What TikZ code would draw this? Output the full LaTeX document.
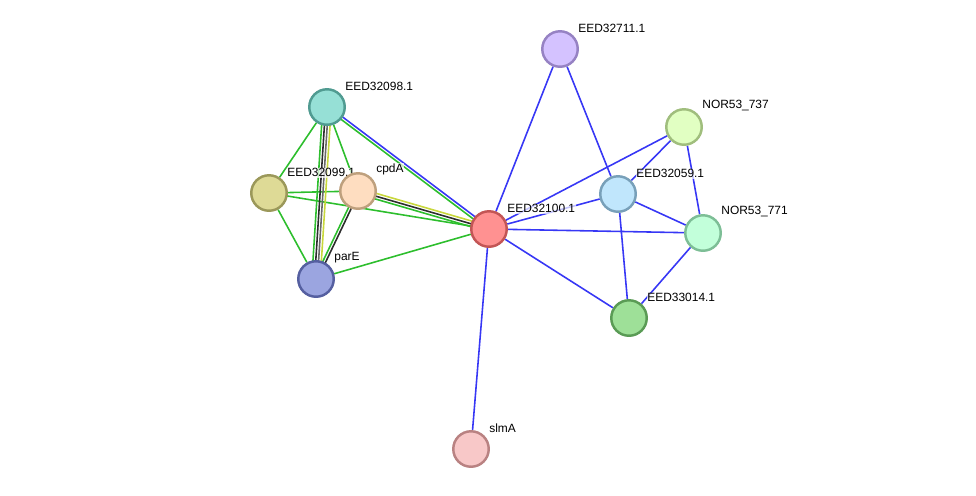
\documentclass[tikz,border=0pt]{standalone}
\usepackage{fontspec}
\setmainfont{Liberation Sans}
\usetikzlibrary{calc,backgrounds}
\usepackage{xcolor}
\definecolor{linkblue}{RGB}{55,55,245}
\definecolor{linkgreen}{RGB}{45,190,45}
\definecolor{linkyellow}{RGB}{200,215,60}
\definecolor{linkblack}{RGB}{45,45,45}
\definecolor{linkgrey}{RGB}{105,105,105}

\tikzset{
  prot/.style={circle, minimum size=0.71cm, inner sep=0pt, line width=1.4pt},
  lbl/.style={anchor=south west, xshift=0.8pt, yshift=-0.5pt, font=\fontsize{6.8}{8}\selectfont,
    fill=white, fill opacity=0.7, text opacity=1, inner sep=0.4pt},
  link/.style={line width=0.9pt}
}

\begin{document}
\begin{tikzpicture}[x=0.02cm, y=-0.02cm, label distance=2pt]
    \useasboundingbox (0,0) rectangle (976,495);

    % proteins
    \node[prot, fill={rgb,255:red,255;green,145;blue,145}, draw={rgb,255:red,195;green,85;blue,85}, label={[lbl]45:EED32100.1}] (eed32100) at (489,229) {};
    \node[prot, fill={rgb,255:red,212;green,194;blue,255}, draw={rgb,255:red,150;green,130;blue,195}, label={[lbl]45:EED32711.1}] (eed32711) at (560,49) {};
    \node[prot, fill={rgb,255:red,225;green,255;blue,194}, draw={rgb,255:red,160;green,190;blue,125}, label={[lbl]45:NOR53\_737}] (nor737) at (684,127) {};
    \node[prot, fill={rgb,255:red,192;green,230;blue,252}, draw={rgb,255:red,120;green,160;blue,185}, label={[lbl]45:EED32059.1}] (eed32059) at (618,194) {};
    \node[prot, fill={rgb,255:red,194;green,255;blue,218}, draw={rgb,255:red,125;green,190;blue,150}, label={[lbl]45:NOR53\_771}] (nor771) at (703,233) {};
    \node[prot, fill={rgb,255:red,158;green,224;blue,152}, draw={rgb,255:red,90;green,155;blue,85}, label={[lbl]45:EED33014.1}] (eed33014) at (629,318) {};
    \node[prot, fill={rgb,255:red,248;green,200;blue,200}, draw={rgb,255:red,185;green,130;blue,130}, label={[lbl]45:slmA}] (slma) at (471,449) {};
    \node[prot, fill={rgb,255:red,150;green,224;blue,214}, draw={rgb,255:red,80;green,155;blue,145}, label={[lbl]45:EED32098.1}] (eed32098) at (327,107) {};
    \node[prot, fill={rgb,255:red,222;green,218;blue,150}, draw={rgb,255:red,155;green,152;blue,90}, label={[lbl]45:EED32099.1}] (eed32099) at (269,193) {};
    \node[prot, fill={rgb,255:red,254;green,221;blue,192}, draw={rgb,255:red,190;green,160;blue,125}, label={[lbl]45:cpdA}] (cpda) at (358,191) {};
    \node[prot, fill={rgb,255:red,155;green,165;blue,224}, draw={rgb,255:red,85;green,95;blue,160}, label={[lbl]45:parE}] (pare) at (316,279) {};

    % associations
    \begin{scope}[on background layer={link}]
        % left cluster
        \draw[linkgreen] (eed32098) -- (eed32099);
        \draw[linkgreen] (eed32098) -- (cpda);
        \draw[linkgreen] (eed32099) -- (cpda);
        \draw[linkgreen] (eed32099) -- (pare);
        \draw[linkgreen] (eed32099.center) -- (eed32100.center);
        \draw[linkgreen] (pare) -- (eed32100);
        \draw[linkblue]  ($(eed32098.center)!0.8pt!90:(eed32100.center)$) -- ($(eed32100.center)!0.8pt!-90:(eed32098.center)$);
        \draw[linkgreen] ($(eed32098.center)!-0.8pt!90:(eed32100.center)$) -- ($(eed32100.center)!-0.8pt!-90:(eed32098.center)$);
        \draw[linkgreen]  ($(eed32098.center)!-2.4pt!90:(pare.center)$) -- ($(pare.center)!-2.4pt!-90:(eed32098.center)$);
        \draw[linkblack]  ($(eed32098.center)!-0.8pt!90:(pare.center)$) -- ($(pare.center)!-0.8pt!-90:(eed32098.center)$);
        \draw[linkgrey]   ($(eed32098.center)!0.8pt!90:(pare.center)$) -- ($(pare.center)!0.8pt!-90:(eed32098.center)$);
        \draw[linkyellow] ($(eed32098.center)!2.4pt!90:(pare.center)$) -- ($(pare.center)!2.4pt!-90:(eed32098.center)$);
        \draw[linkgreen] ($(cpda.center)!-0.8pt!90:(pare.center)$) -- ($(pare.center)!-0.8pt!-90:(cpda.center)$);
        \draw[linkblack] ($(cpda.center)!0.8pt!90:(pare.center)$) -- ($(pare.center)!0.8pt!-90:(cpda.center)$);
        \draw[linkyellow] ($(cpda.center)!1.6pt!90:(eed32100.center)$) -- ($(eed32100.center)!1.6pt!-90:(cpda.center)$);
        \draw[linkblack]  (cpda.center) -- (eed32100.center);
        \draw[linkgreen]  ($(cpda.center)!-1.6pt!90:(eed32100.center)$) -- ($(eed32100.center)!-1.6pt!-90:(cpda.center)$);
        % right cluster
        \draw[linkblue] (eed32100) -- (eed32711);
        \draw[linkblue] (eed32100) -- (nor737);
        \draw[linkblue] (eed32100) -- (eed32059);
        \draw[linkblue] (eed32100) -- (nor771);
        \draw[linkblue] (eed32100) -- (eed33014);
        \draw[linkblue] (eed32100) -- (slma);
        \draw[linkblue] (eed32711) -- (eed32059);
        \draw[linkblue] (nor737) -- (eed32059);
        \draw[linkblue] (nor737) -- (nor771);
        \draw[linkblue] (eed32059) -- (nor771);
        \draw[linkblue] (eed32059) -- (eed33014);
        \draw[linkblue] (nor771) -- (eed33014);
    \end{scope}
\end{tikzpicture}
\end{document}
